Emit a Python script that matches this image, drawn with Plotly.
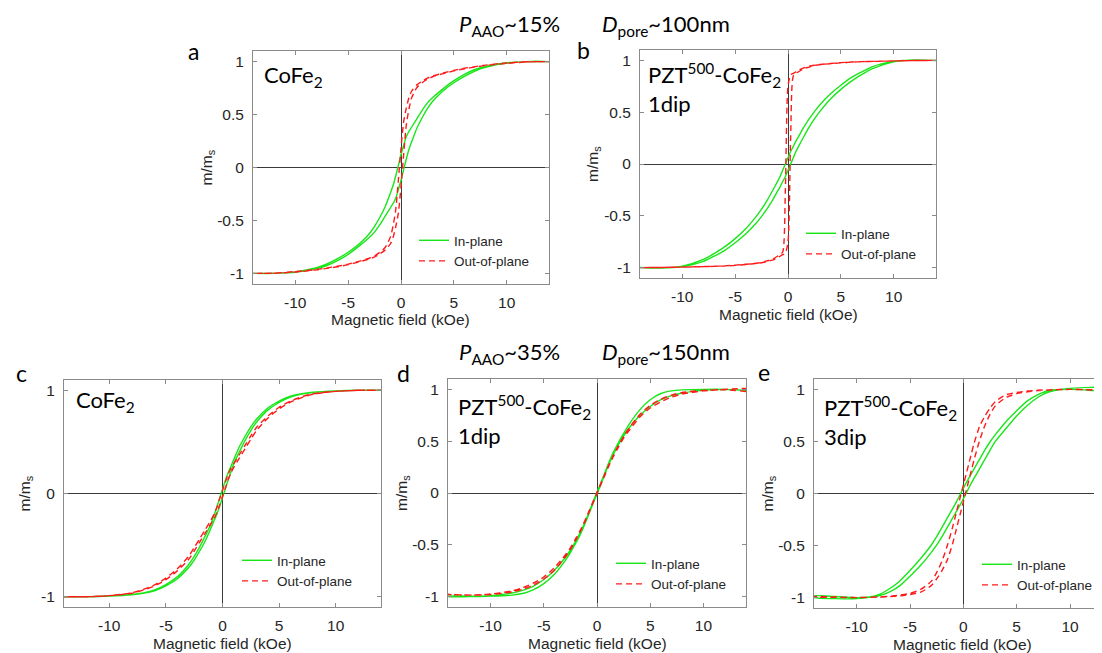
import plotly.graph_objects as go

W, H = 1102, 653

# ---------------- data ----------------
field_kOe = [-14, -12, -10, -8, -7, -6, -5, -4, -3, -2.5, -2, -1.5, -1, -0.75, -0.5, -0.25,
             0, 0.25, 0.5, 0.75, 1, 1.5, 2, 2.5, 3, 4, 5, 6, 7, 8, 10, 12, 14]

# panel a : CoFe2, P_AAO~15%
a_in_asc = [-1.0, -1.0, -0.99, -0.955, -0.925, -0.88, -0.82, -0.745, -0.66, -0.61, -0.54, -0.46, -0.38, -0.34, -0.29, -0.21,
            -0.12, -0.02, 0.08, 0.17, 0.24, 0.37, 0.47, 0.555, 0.625, 0.725, 0.8, 0.86, 0.91, 0.945, 0.985, 1.0, 1.0]
a_in_desc = [-1.0, -1.0, -0.985, -0.945, -0.91, -0.86, -0.8, -0.725, -0.625, -0.555, -0.47, -0.37, -0.24, -0.17, -0.08, 0.02,
             0.12, 0.21, 0.29, 0.34, 0.38, 0.46, 0.54, 0.61, 0.66, 0.745, 0.82, 0.88, 0.925, 0.955, 0.99, 1.0, 1.0]
a_out_asc = [-1.0, -0.998, -0.987, -0.967, -0.952, -0.937, -0.917, -0.892, -0.863, -0.845, -0.815, -0.78, -0.72, -0.66, -0.56, -0.43,
             -0.18, 0.12, 0.4, 0.55, 0.655, 0.755, 0.8, 0.835, 0.857, 0.887, 0.912, 0.932, 0.948, 0.963, 0.983, 0.997, 1.0]
a_out_desc = [-1.0, -0.997, -0.983, -0.963, -0.948, -0.932, -0.912, -0.887, -0.857, -0.835, -0.8, -0.755, -0.655, -0.55, -0.4, -0.12,
              0.18, 0.43, 0.56, 0.66, 0.72, 0.78, 0.815, 0.845, 0.863, 0.892, 0.917, 0.937, 0.952, 0.967, 0.987, 0.998, 1.0]

# panel b : PZT500-CoFe2 1dip, P_AAO~15%
b_in_asc = [-0.998, -1.005, -0.99, -0.94, -0.89, -0.835, -0.76, -0.675, -0.57, -0.505, -0.435, -0.355, -0.265, -0.22, -0.17, -0.12,
            -0.06, 0.0, 0.06, 0.12, 0.17, 0.265, 0.355, 0.435, 0.505, 0.625, 0.72, 0.8, 0.865, 0.92, 0.985, 1.005, 0.998]
b_in_desc = [-0.998, -1.005, -0.985, -0.92, -0.865, -0.8, -0.72, -0.625, -0.505, -0.435, -0.355, -0.265, -0.17, -0.12, -0.06, 0.0,
             0.06, 0.12, 0.17, 0.22, 0.265, 0.355, 0.435, 0.505, 0.57, 0.675, 0.76, 0.835, 0.89, 0.94, 0.99, 1.005, 0.998]
b_out_asc = [-1.0, -0.998, -0.995, -0.99, -0.988, -0.984, -0.978, -0.97, -0.96, -0.953, -0.943, -0.928, -0.905, -0.89, -0.875, -0.86,
             -0.75, 0.25, 0.85, 0.875, 0.89, 0.92, 0.935, 0.95, 0.958, 0.968, 0.976, 0.983, 0.987, 0.99, 0.995, 0.998, 1.0]
b_out_desc = [-1.0, -0.998, -0.995, -0.99, -0.987, -0.983, -0.976, -0.968, -0.958, -0.95, -0.935, -0.92, -0.89, -0.875, -0.85, -0.25,
              0.75, 0.86, 0.875, 0.89, 0.905, 0.928, 0.943, 0.953, 0.96, 0.97, 0.978, 0.984, 0.988, 0.99, 0.995, 0.998, 1.0]

# panel c : CoFe2, P_AAO~35%
c_in_asc = [-1.0, -1.0, -0.994, -0.981, -0.967, -0.943, -0.895, -0.828, -0.72, -0.645, -0.555, -0.455, -0.33, -0.265, -0.2, -0.125,
            -0.04, 0.045, 0.13, 0.21, 0.29, 0.405, 0.515, 0.61, 0.69, 0.808, 0.882, 0.935, 0.963, 0.978, 0.992, 1.0, 1.0]
c_in_desc = [-1.0, -1.0, -0.992, -0.978, -0.963, -0.935, -0.882, -0.808, -0.69, -0.61, -0.515, -0.405, -0.29, -0.21, -0.13, -0.045,
             0.04, 0.125, 0.2, 0.265, 0.33, 0.455, 0.555, 0.645, 0.72, 0.828, 0.895, 0.943, 0.967, 0.981, 0.994, 1.0, 1.0]
c_out_asc = [-1.0, -1.0, -0.99, -0.967, -0.937, -0.895, -0.836, -0.75, -0.64, -0.558, -0.468, -0.378, -0.29, -0.245, -0.185, -0.11,
             -0.03, 0.05, 0.135, 0.2, 0.255, 0.345, 0.435, 0.525, 0.61, 0.73, 0.82, 0.885, 0.93, 0.962, 0.99, 1.0, 1.0]
c_out_desc = [-1.0, -1.0, -0.99, -0.962, -0.93, -0.885, -0.82, -0.73, -0.61, -0.525, -0.435, -0.345, -0.255, -0.2, -0.135, -0.05,
              0.03, 0.11, 0.185, 0.245, 0.29, 0.378, 0.468, 0.558, 0.64, 0.75, 0.836, 0.895, 0.937, 0.967, 0.99, 1.0, 1.0]

# panel d : PZT500-CoFe2 1dip, P_AAO~35%
d_in_asc = [-1.0, -1.0, -0.995, -0.985, -0.97, -0.935, -0.875, -0.785, -0.655, -0.575, -0.485, -0.385, -0.265, -0.2, -0.135, -0.07,
            -0.01, 0.055, 0.12, 0.185, 0.25, 0.365, 0.465, 0.55, 0.625, 0.745, 0.835, 0.9, 0.94, 0.965, 0.99, 1.0, 0.99]
d_in_desc = [-0.995, -0.995, -0.99, -0.965, -0.94, -0.9, -0.835, -0.745, -0.625, -0.55, -0.465, -0.365, -0.25, -0.185, -0.12, -0.055,
             0.01, 0.07, 0.135, 0.2, 0.265, 0.385, 0.485, 0.575, 0.66, 0.8, 0.9, 0.96, 0.985, 0.995, 1.0, 1.0, 0.99]
d_out_asc = [-0.98, -0.985, -0.975, -0.945, -0.915, -0.87, -0.81, -0.72, -0.6, -0.53, -0.44, -0.345, -0.235, -0.175, -0.115, -0.055,
             -0.005, 0.055, 0.115, 0.175, 0.235, 0.345, 0.44, 0.53, 0.6, 0.73, 0.82, 0.88, 0.925, 0.955, 0.985, 1.0, 1.01]
d_out_desc = [-0.98, -0.985, -0.98, -0.955, -0.93, -0.89, -0.83, -0.745, -0.62, -0.545, -0.455, -0.355, -0.245, -0.185, -0.125, -0.065,
              0.005, 0.065, 0.125, 0.185, 0.245, 0.355, 0.455, 0.545, 0.625, 0.755, 0.845, 0.905, 0.945, 0.97, 0.99, 0.995, 0.98]

# panel e : PZT500-CoFe2 3dip, P_AAO~35%
e_in_asc = [-0.985, -0.99, -1.0, -0.985, -0.95, -0.89, -0.795, -0.69, -0.565, -0.495, -0.415, -0.325, -0.235, -0.19, -0.145, -0.1,
            -0.05, 0.0, 0.05, 0.1, 0.145, 0.235, 0.325, 0.415, 0.5, 0.625, 0.745, 0.845, 0.925, 0.975, 1.01, 1.02, 1.015]
e_in_desc = [-1.0, -1.01, -1.01, -0.975, -0.92, -0.845, -0.74, -0.625, -0.495, -0.415, -0.325, -0.235, -0.145, -0.1, -0.05, 0.0,
             0.05, 0.1, 0.145, 0.19, 0.235, 0.325, 0.415, 0.495, 0.565, 0.69, 0.795, 0.89, 0.95, 0.99, 1.0, 0.99, 0.97]
e_out_asc = [-0.995, -0.997, -1.0, -0.996, -0.992, -0.984, -0.971, -0.948, -0.884, -0.82, -0.74, -0.638, -0.48, -0.38, -0.28, -0.18,
             -0.08, 0.02, 0.12, 0.22, 0.32, 0.5, 0.648, 0.76, 0.842, 0.922, 0.959, 0.977, 0.988, 0.994, 1.0, 0.995, 0.99]
e_out_desc = [-0.99, -0.995, -1.0, -0.994, -0.988, -0.977, -0.959, -0.922, -0.842, -0.76, -0.648, -0.5, -0.32, -0.22, -0.12, -0.02,
              0.08, 0.18, 0.28, 0.38, 0.48, 0.638, 0.74, 0.82, 0.884, 0.948, 0.971, 0.984, 0.992, 0.996, 1.0, 0.997, 0.995]

x_ticks = [-10, -5, 0, 5, 10]
x_tick_text = ["-10", "-5", "0", "5", "10"]
y_ticks_full = [-1, -0.5, 0, 0.5, 1]
y_tick_text_full = ["-1", "-0.5", "0", "0.5", "1"]
y_ticks_c = [-1, 0, 1]
y_tick_text_c = ["-1", "0", "1"]

series_names = ["In-plane", "Out-of-plane"]
panel_letters = ["a", "b", "c", "d", "e"]
sample_labels = ["CoFe<sub>2</sub>",
                 "PZT<sup>500</sup>-CoFe<sub>2</sub><br>1dip",
                 "CoFe<sub>2</sub>",
                 "PZT<sup>500</sup>-CoFe<sub>2</sub><br>1dip",
                 "PZT<sup>500</sup>-CoFe<sub>2</sub><br>3dip"]
x_title = "Magnetic field (kOe)"
y_title = "m/m<sub>s</sub>"
top_titles = ["<i>P</i><sub>AAO</sub>~15%", "<i>D</i><sub>pore</sub>~100nm"]
bottom_titles = ["<i>P</i><sub>AAO</sub>~35%", "<i>D</i><sub>pore</sub>~150nm"]

panel_data = [
    (a_in_asc, a_in_desc, a_out_asc, a_out_desc),
    (b_in_asc, b_in_desc, b_out_asc, b_out_desc),
    (c_in_asc, c_in_desc, c_out_asc, c_out_desc),
    (d_in_asc, d_in_desc, d_out_asc, d_out_desc),
    (e_in_asc, e_in_desc, e_out_asc, e_out_desc),
]

# ---------------- layout geometry (pixels) ----------------
boxes = [  # left, right, top, bottom
    (245, 541, 43, 276),
    (632, 928, 42, 270),
    (56, 373, 372, 599),
    (440, 738, 371, 599),
    (806, 1102, 371, 600),
]
x_ranges = [[-14, 14], [-14, 14], [-14, 14], [-14, 14], [-14, 13.75]]
y_range = [-1.1, 1.1]


def px(x):
    return x / W


def py(y):
    return 1 - y / H


GREEN = "#19e619"
RED = "#ff1a1a"
TXT = "#262626"
AXC = "#8a8a8a"
AX_FS = 15.5
TICKFONT = dict(family="Liberation Sans, Arial", size=AX_FS, color=TXT)
LABFONT = "Lato, Calibri, sans-serif"

fig = go.Figure()

for i, (ia, idesc, oa, odesc) in enumerate(panel_data):
    n = i + 1
    xa = "x" if n == 1 else f"x{n}"
    ya = "y" if n == 1 else f"y{n}"
    leg = "legend" if n == 1 else f"legend{n}"
    loop_x = field_kOe[::-1] + field_kOe
    fig.add_trace(go.Scatter(
        x=loop_x, y=idesc[::-1] + ia, mode="lines", name=series_names[0],
        line=dict(color=GREEN, width=1.4, shape="spline", smoothing=0.7),
        xaxis=xa, yaxis=ya, legend=leg, hoverinfo="skip"))
    fig.add_trace(go.Scatter(
        x=loop_x, y=odesc[::-1] + oa, mode="lines", name=series_names[1],
        line=dict(color=RED, width=1.4, dash="6px,4px", shape="spline", smoothing=0.7),
        xaxis=xa, yaxis=ya, legend=leg, hoverinfo="skip"))

layout = dict(
    width=W, height=H, margin=dict(l=0, r=0, t=0, b=0),
    paper_bgcolor="white", plot_bgcolor="white", showlegend=True,
    font=dict(family="Liberation Sans, Arial", size=14, color=TXT),
)

legend_pos = [(420, 229), (807, 222), (243, 549), (617, 552), (983, 553)]

annotations = []
for i, (l, r, t, b) in enumerate(boxes):
    n = i + 1
    xk = "xaxis" if n == 1 else f"xaxis{n}"
    yk = "yaxis" if n == 1 else f"yaxis{n}"
    anchor_x = "y" if n == 1 else f"y{n}"
    anchor_y = "x" if n == 1 else f"x{n}"
    layout[xk] = dict(
        domain=[px(l), px(r)], range=x_ranges[i], anchor=anchor_x,
        showline=True, mirror="ticks", linecolor=AXC, linewidth=1,
        ticks="inside", ticklen=4, tickcolor=AXC, tickwidth=1,
        tickvals=x_ticks, ticktext=x_tick_text, tickfont=TICKFONT,
        showgrid=False, zeroline=True, zerolinecolor="#3a3a3a", zerolinewidth=1,
        ticklabelstandoff=4, fixedrange=True,
    )
    yt = y_ticks_c if i == 2 else y_ticks_full
    ytt = y_tick_text_c if i == 2 else y_tick_text_full
    layout[yk] = dict(
        domain=[py(b), py(t)], range=y_range, anchor=anchor_y,
        showline=True, mirror="ticks", linecolor=AXC, linewidth=1,
        ticks="inside", ticklen=4, tickcolor=AXC, tickwidth=1,
        tickvals=yt, ticktext=ytt, tickfont=TICKFONT,
        showgrid=False, zeroline=True, zerolinecolor="#3a3a3a", zerolinewidth=1,
        ticklabelstandoff=5, fixedrange=True,
    )
    lk = "legend" if n == 1 else f"legend{n}"
    lx, ly = legend_pos[i]
    layout[lk] = dict(
        x=px(lx - 14), y=py(ly - 12), xanchor="left", yanchor="top",
        bgcolor="rgba(0,0,0,0)", borderwidth=0,
        font=dict(family="Liberation Sans, Arial", size=13.5, color=TXT),
        tracegroupgap=0, itemwidth=30,
    )
    # axis titles
    annotations.append(dict(
        text=x_title, x=px((l + r) / 2), y=py(b + 36), xref="paper", yref="paper",
        xanchor="center", yanchor="middle", showarrow=False,
        font=dict(family="Liberation Sans, Arial", size=AX_FS, color=TXT)))
    annotations.append(dict(
        text=y_title, x=px(l - 46 if i != 2 else l - 39), y=py((t + b) / 2), xref="paper", yref="paper",
        xanchor="center", yanchor="middle", showarrow=False, textangle=-90,
        font=dict(family="Liberation Sans, Arial", size=AX_FS, color=TXT)))

# panel letters
letter_pos = [(185, 43), (575, 42), (13, 365), (395, 365), (756, 364)]
for letter, (lx, ly) in zip(panel_letters, letter_pos):
    annotations.append(dict(
        text=letter, x=px(lx), y=py(ly), xref="paper", yref="paper",
        xanchor="center", yanchor="middle", showarrow=False,
        font=dict(family=LABFONT, size=23, color="black")))

# sample labels inside the plots
label_pos = [(254, 68), (638, 80), (66, 393), (448, 412), (814, 413)]
for txt, (lx, ly) in zip(sample_labels, label_pos):
    annotations.append(dict(
        text=txt, x=px(lx), y=py(ly), xref="paper", yref="paper",
        xanchor="left", yanchor="middle", align="left", showarrow=False,
        font=dict(family=LABFONT, size=22, color="black")))

# group titles
for (txt, tx), ty in zip(zip(top_titles, [450, 593]), [1, 1]):
    annotations.append(dict(
        text=txt, x=px(tx), y=py(ty), xref="paper", yref="paper",
        xanchor="left", yanchor="top", showarrow=False, borderpad=0,
        font=dict(family=LABFONT, size=22, color="black")))
for (txt, tx), ty in zip(zip(bottom_titles, [450, 593]), [345, 345]):
    annotations.append(dict(
        text=txt, x=px(tx), y=py(ty), xref="paper", yref="paper",
        xanchor="left", yanchor="middle", showarrow=False, borderpad=0,
        font=dict(family=LABFONT, size=22, color="black")))

layout["annotations"] = annotations
fig.update_layout(**layout)
fig.write_html("out.html")
